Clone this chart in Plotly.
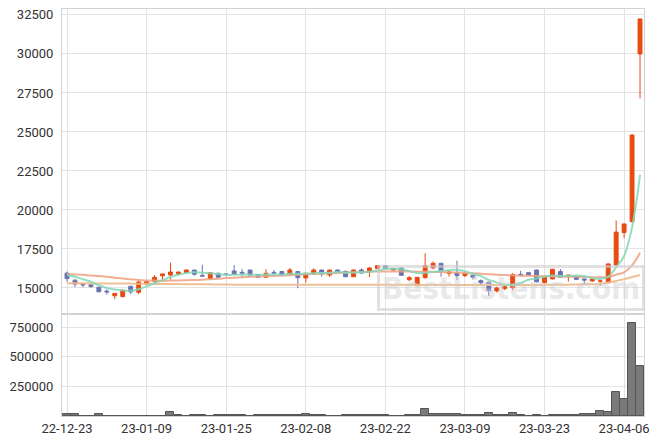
import plotly.graph_objects as go

dates = ["22-12-23","22-12-26","22-12-27","22-12-28","22-12-29",
         "23-01-02","23-01-03","23-01-04","23-01-05","23-01-06",
         "23-01-09","23-01-10","23-01-11","23-01-12","23-01-13",
         "23-01-16","23-01-17","23-01-18","23-01-19","23-01-20",
         "23-01-25","23-01-26","23-01-27","23-01-30","23-01-31",
         "23-02-01","23-02-02","23-02-03","23-02-06","23-02-07",
         "23-02-08","23-02-09","23-02-10","23-02-13","23-02-14",
         "23-02-15","23-02-16","23-02-17","23-02-20","23-02-21",
         "23-02-22","23-02-23","23-02-24","23-02-27","23-02-28",
         "23-03-02","23-03-03","23-03-06","23-03-07","23-03-08",
         "23-03-09","23-03-10","23-03-13","23-03-14","23-03-15",
         "23-03-16","23-03-17","23-03-20","23-03-21","23-03-22",
         "23-03-23","23-03-24","23-03-27","23-03-28","23-03-29",
         "23-03-30","23-03-31","23-04-03","23-04-04","23-04-05",
         "23-04-06","23-04-07","23-04-10"]

open_ = [15950,15500,15250,15200,15050,14800,14500,14450,15100,14720,
         15250,15430,15780,15830,15900,15980,16150,15800,15600,15940,
         15900,16090,16000,16150,15850,15690,16000,16050,15850,16050,
         15640,15900,16150,15830,16150,16070,15720,16150,16040,16240,
         16430,16150,16280,15530,15150,15660,16280,16580,15940,15960,
         15790,15810,15470,15370,14810,14960,15020,15870,15980,16150,
         15340,15580,16050,15720,15720,15575,15450,15440,15340,16470,
         18550,19250,30000]
high = [16050,15550,15280,15220,15050,14900,14680,14900,15150,15470,
        15450,15830,15920,16620,16050,16180,16150,16490,16000,15980,
        15950,16470,16200,16160,15860,16200,16150,16100,16280,16080,
        15980,16260,16160,16160,16170,16100,16170,16260,16350,16450,
        16450,16280,16300,15770,15700,17220,16700,16600,16080,16750,
        15960,15830,15550,15400,15080,15200,15960,16100,16000,16170,
        15730,16200,16210,15830,15750,15600,15575,15470,16560,19330,
        19150,24850,32250]
low = [15400,15050,15050,15000,14750,14580,14280,14380,14600,14600,
       15200,15250,15400,15550,15800,15950,15780,15750,15520,15650,
       15750,15850,15720,15700,15650,15650,15800,15800,15800,14980,
       15340,15880,15720,15700,16000,15700,15700,15900,15700,16200,
       16230,16090,15800,15430,15130,15600,16200,15720,15720,15510,
       15700,15550,15200,14490,14700,14850,14850,15800,15800,15350,
       15300,15550,15690,15410,15530,15240,15400,15130,15300,16400,
       18200,19200,27150]
close = [15600,15250,15200,15100,14750,14750,14650,14850,14750,15380,
         15400,15680,15900,16020,16020,16150,15880,15760,15980,15690,
         15860,15880,15950,15820,15690,15940,15960,15830,16150,15660,
         15940,16150,15900,16150,16030,15720,16150,15960,16280,16430,
         16250,16250,15810,15660,15680,16430,16580,16070,16020,15790,
         15940,15690,15340,14830,15000,15080,15860,15840,15820,15400,
         15720,16200,15690,15830,15550,15510,15575,15450,16540,18580,
         19100,24800,32240]

volume = [15000,15000,0,0,15000,0,0,0,0,0,
          0,0,0,32000,12000,0,12000,12000,0,10000,
          10000,10000,10000,0,10000,10000,10000,10000,10000,10000,
          15000,10000,10000,0,0,10000,10000,10000,10000,10000,
          10000,0,0,10000,10000,60000,20000,20000,20000,20000,
          10000,10000,10000,25000,10000,10000,25000,10000,0,8000,
          0,8000,8000,8000,8000,15000,15000,40000,30000,205000,
          145000,790000,425000]

ma5 = [15830,15720,15560,15400,15180,15000,14900,14850,14830,14920,
       15100,15300,15500,15700,15850,15950,16000,15970,15950,15890,
       15840,15840,15870,15850,15840,15860,15870,15850,15910,15910,
       15910,15950,15960,15970,16030,15990,15990,16000,16030,16110,
       16210,16230,16200,16080,15950,15970,16030,16080,16150,16170,
       16080,15900,15760,15520,15360,15200,15220,15320,15520,15600,
       15730,15800,15770,15770,15800,15760,15630,15580,15720,16330,
       17050,18890,22250]
ma20 = [15900,15870,15840,15800,15770,15720,15660,15600,15560,15510,
        15480,15470,15470,15470,15480,15500,15510,15530,15560,15590,
        15630,15660,15690,15710,15730,15750,15770,15790,15820,15850,
        15880,15900,15920,15940,15960,15980,16000,16020,16040,16050,
        16060,16060,16060,16050,16040,16040,16030,16020,16000,15990,
        15960,15940,15910,15880,15850,15830,15810,15790,15780,15760,
        15750,15740,15730,15720,15710,15700,15690,15680,15700,15850,
        16000,16450,17250]
ma120 = [15300,15300,15300,15290,15290,15290,15280,15280,15280,15270,
         15270,15260,15260,15250,15250,15240,15240,15230,15230,15220,
         15220,15210,15210,15210,15200,15200,15200,15200,15200,15200,
         15200,15200,15200,15200,15200,15200,15200,15200,15200,15200,
         15200,15200,15200,15200,15190,15190,15190,15190,15190,15190,
         15190,15190,15190,15190,15190,15190,15190,15190,15190,15190,
         15200,15200,15210,15210,15220,15230,15240,15260,15350,15450,
         15560,15700,15830]

price_ticks = [15000, 17500, 20000, 22500, 25000, 27500, 30000, 32500]
volume_ticks = [250000, 500000, 750000]
date_ticks = dates[::10]

UP = "#e84a12"
DOWN = "#6b73b2"
GRID = "#e3e3e3"
LINE = "#d2d2d2"
FONT = dict(family="Roboto, sans-serif", size=13, color="#333333")

fig = go.Figure()
fig.add_trace(go.Candlestick(
    x=dates, open=open_, high=high, low=low, close=close,
    increasing=dict(line=dict(color=UP, width=1), fillcolor=UP),
    decreasing=dict(line=dict(color=DOWN, width=1), fillcolor=DOWN),
    xaxis="x", yaxis="y", showlegend=False, hoverinfo="skip"))
fig.add_trace(go.Scatter(x=dates, y=ma120, mode="lines", xaxis="x", yaxis="y",
                         line=dict(color="rgba(240,184,136,0.9)", width=2, shape="spline"),
                         showlegend=False, hoverinfo="skip"))
fig.add_trace(go.Scatter(x=dates, y=ma20, mode="lines", xaxis="x", yaxis="y",
                         line=dict(color="rgba(238,160,128,0.85)", width=2, shape="spline"),
                         showlegend=False, hoverinfo="skip"))
fig.add_trace(go.Scatter(x=dates, y=ma5, mode="lines", xaxis="x", yaxis="y",
                         line=dict(color="rgba(130,215,185,0.85)", width=2, shape="spline"),
                         showlegend=False, hoverinfo="skip"))
fig.add_trace(go.Bar(x=dates, y=volume, xaxis="x2", yaxis="y2",
                     marker=dict(color="#7a7a7a", line=dict(color="#555555", width=1)),
                     showlegend=False, hoverinfo="skip"))

axis_common = dict(showline=True, linecolor=LINE, linewidth=1, mirror=True,
                   showgrid=True, gridcolor=GRID, gridwidth=1, zeroline=False,
                   tickfont=FONT, ticks="", automargin=False,
                   ticklabeloverflow="allow")

# the page body adds an 8px offset; figure is sized so the plot lands where the reference has it
fig.update_layout(
    width=655, height=436,
    margin=dict(l=54, r=19, t=1, b=28),
    paper_bgcolor="white", plot_bgcolor="white",
    bargap=0,
    xaxis=dict(type="category", domain=[0, 1], anchor="y",
               range=[-0.63, 72.5], tickmode="array", tickvals=date_ticks,
               showticklabels=False, rangeslider=dict(visible=False), **axis_common),
    xaxis2=dict(type="category", domain=[0, 1], anchor="y2", matches="x",
                range=[-0.63, 72.5], tickmode="array", tickvals=date_ticks,
                ticktext=date_ticks, showticklabels=True, **axis_common),
    yaxis=dict(domain=[0.2506, 1], anchor="x", range=[13330, 32880],
               tickmode="array", tickvals=price_ticks,
               ticktext=[str(v) for v in price_ticks], ticklabelstandoff=5,
               **axis_common),
    yaxis2=dict(domain=[0, 0.2506], anchor="x2", range=[0, 862000],
                tickmode="array", tickvals=volume_ticks,
                ticktext=[str(v) for v in volume_ticks], ticklabelstandoff=5,
                **axis_common),
    annotations=[dict(
        text="<b>BestListens.com</b>", xref="paper", yref="paper",
        x=0.772, y=0.315, xanchor="center", yanchor="middle", showarrow=False,
        font=dict(family="DejaVu Sans Condensed, sans-serif",
                  size=31, color="rgba(205,205,205,0.45)"),
        bordercolor="rgba(205,205,205,0.6)", borderwidth=3, borderpad=2)],
)

fig.write_html("out.html")
